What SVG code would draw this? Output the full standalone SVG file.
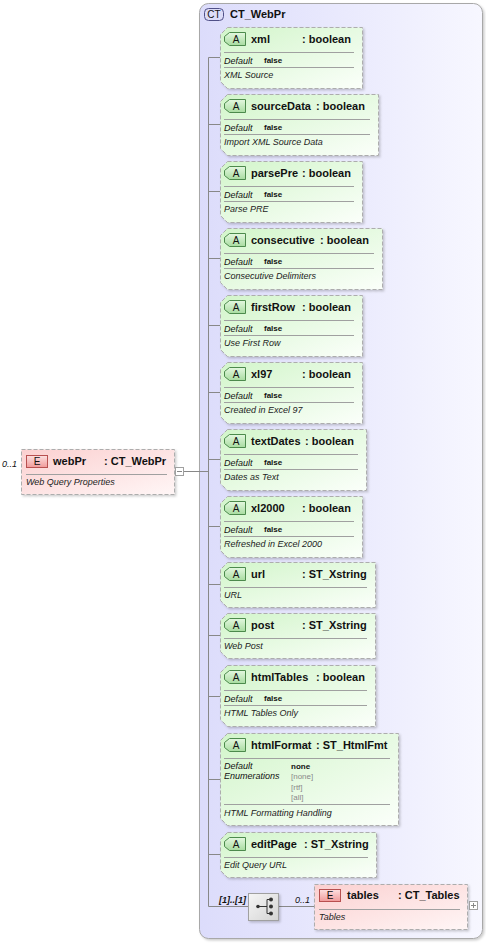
<svg xmlns="http://www.w3.org/2000/svg" width="486" height="943" viewBox="0 0 486 943">
<defs>
<linearGradient id="gCT" x1="0" y1="0" x2="1" y2="0"><stop offset="0" stop-color="#dcdcfb"/><stop offset="1" stop-color="#f7f7ff"/></linearGradient>
<linearGradient id="gA" x1="0" y1="0" x2="1" y2="1"><stop offset="0" stop-color="#d2f5ca"/><stop offset="1" stop-color="#fbfffa"/></linearGradient>
<linearGradient id="gE" x1="0" y1="0" x2="1" y2="1"><stop offset="0" stop-color="#fbd0d0"/><stop offset="1" stop-color="#fff6f6"/></linearGradient>
<linearGradient id="gAB" x1="0" y1="0" x2="0" y2="1"><stop offset="0" stop-color="#e4f8e0"/><stop offset="1" stop-color="#a8dca0"/></linearGradient>
<linearGradient id="gEB" x1="0" y1="0" x2="0" y2="1"><stop offset="0" stop-color="#fde0e0"/><stop offset="1" stop-color="#f09a9a"/></linearGradient>
<linearGradient id="gSeq" x1="0" y1="0" x2="1" y2="1"><stop offset="0" stop-color="#f6f6f6"/><stop offset="1" stop-color="#d4d4d4"/></linearGradient>
<filter id="sh" x="-10%" y="-10%" width="130%" height="130%"><feDropShadow dx="1.5" dy="1.5" stdDeviation="1" flood-color="#000" flood-opacity="0.2"/></filter>
</defs>
<style>
text{font-family:"Liberation Sans",Arial,sans-serif;fill:#111}
.attr{fill:url(#gA);stroke:#adadad;stroke-width:1;stroke-dasharray:4 2;filter:url(#sh)}
.elem{fill:url(#gE);stroke:#adadad;stroke-width:1;stroke-dasharray:4 2;filter:url(#sh)}
.ab{fill:url(#gAB);stroke:#4c8a4c;stroke-width:1}
.eb{fill:url(#gEB);stroke:#b85050;stroke-width:1}
.bt{font-size:10px;text-anchor:middle}
.nm{font-size:11px;font-weight:bold}
.sep{stroke:#a0a0a0;stroke-width:1}
.lab{font-size:9px;font-style:italic}
.val{font-size:8px;font-weight:bold}
.enum{font-size:8px;fill:#8a8a8a}
.desc{font-size:9px;font-style:italic;fill:#222}
.card{font-size:9px;font-style:italic}
.con{stroke:#888;stroke-width:1;fill:none}
.icon{fill:#fff;stroke:#a0a0a0;stroke-width:1}
</style>

<g id="CT_WebPr">
<rect x="199.5" y="3.5" width="283" height="935" rx="9" fill="url(#gCT)" stroke="#a8a8a8" filter="url(#sh)"/>
<rect x="204.5" y="8.5" width="19" height="12" rx="4" fill="#dcdcf8" stroke="#505088"/>
<text class="bt" x="214" y="18">CT</text>
<text class="nm" x="230" y="18">CT_WebPr</text>
</g>

<g id="connectors">
<line class="con" x1="208.5" y1="57.5" x2="208.5" y2="906.5"/>
<line class="con" x1="184" y1="471.5" x2="208.5" y2="471.5"/>
<line class="con" x1="208.5" y1="57.5" x2="220" y2="57.5"/>
<line class="con" x1="208.5" y1="124.5" x2="220" y2="124.5"/>
<line class="con" x1="208.5" y1="191.5" x2="220" y2="191.5"/>
<line class="con" x1="208.5" y1="258.5" x2="220" y2="258.5"/>
<line class="con" x1="208.5" y1="325.5" x2="220" y2="325.5"/>
<line class="con" x1="208.5" y1="392.5" x2="220" y2="392.5"/>
<line class="con" x1="208.5" y1="459.5" x2="220" y2="459.5"/>
<line class="con" x1="208.5" y1="526.5" x2="220" y2="526.5"/>
<line class="con" x1="208.5" y1="584.5" x2="220" y2="584.5"/>
<line class="con" x1="208.5" y1="635.5" x2="220" y2="635.5"/>
<line class="con" x1="208.5" y1="696.5" x2="220" y2="696.5"/>
<line class="con" x1="208.5" y1="779.5" x2="220" y2="779.5"/>
<line class="con" x1="208.5" y1="854.5" x2="220" y2="854.5"/>
<line class="con" x1="208.5" y1="906.5" x2="248" y2="906.5"/>
<line class="con" x1="279" y1="906.5" x2="314" y2="906.5"/>
</g>

<g id="webPr">
<text class="card" x="2" y="467">0..1</text>
<rect class="elem" x="21.5" y="449.5" width="153" height="45"/>
<rect class="eb" x="26.5" y="455.5" width="21" height="12"/>
<text class="bt" x="37" y="465">E</text>
<text class="nm" x="53" y="465">webPr</text>
<text class="nm" x="104" y="465">: CT_WebPr</text>
<line class="sep" x1="26" y1="474.5" x2="167" y2="474.5"/>
<text class="desc" x="26" y="485">Web Query Properties</text>
<rect class="icon" x="175.5" y="467.5" width="8" height="8"/>
<line x1="177" y1="471.5" x2="182" y2="471.5" stroke="#888"/>
</g>

<g id="attr-xml" transform="translate(0,27)">
<path class="attr" d="M227.5,0.5H362.5V61.5H227.5L220.5,54.5V7.5Z"/>
<path class="ab" d="M229.5,5.5H245.5V18.5H229.5L224.5,14.5V9.5Z"/>
<text class="bt" x="236" y="16">A</text>
<text class="nm" x="251" y="15.5">xml</text>
<text class="nm" x="302" y="15.5">: boolean</text>
<line class="sep" x1="224" y1="25.5" x2="354" y2="25.5"/>
<text class="lab" x="224" y="36.5">Default</text>
<text class="val" x="264" y="36">false</text>
<line class="sep" x1="224" y1="40.5" x2="354" y2="40.5"/>
<text class="desc" x="224" y="51">XML Source</text>
</g>

<g id="attr-sourceData" transform="translate(0,94)">
<path class="attr" d="M227.5,0.5H378.5V61.5H227.5L220.5,54.5V7.5Z"/>
<path class="ab" d="M229.5,5.5H245.5V18.5H229.5L224.5,14.5V9.5Z"/>
<text class="bt" x="236" y="16">A</text>
<text class="nm" x="251" y="15.5">sourceData</text>
<text class="nm" x="316" y="15.5">: boolean</text>
<line class="sep" x1="224" y1="25.5" x2="370" y2="25.5"/>
<text class="lab" x="224" y="36.5">Default</text>
<text class="val" x="264" y="36">false</text>
<line class="sep" x1="224" y1="40.5" x2="370" y2="40.5"/>
<text class="desc" x="224" y="51">Import XML Source Data</text>
</g>

<g id="attr-parsePre" transform="translate(0,161)">
<path class="attr" d="M227.5,0.5H362.5V61.5H227.5L220.5,54.5V7.5Z"/>
<path class="ab" d="M229.5,5.5H245.5V18.5H229.5L224.5,14.5V9.5Z"/>
<text class="bt" x="236" y="16">A</text>
<text class="nm" x="251" y="15.5">parsePre</text>
<text class="nm" x="302" y="15.5">: boolean</text>
<line class="sep" x1="224" y1="25.5" x2="354" y2="25.5"/>
<text class="lab" x="224" y="36.5">Default</text>
<text class="val" x="264" y="36">false</text>
<line class="sep" x1="224" y1="40.5" x2="354" y2="40.5"/>
<text class="desc" x="224" y="51">Parse PRE</text>
</g>

<g id="attr-consecutive" transform="translate(0,228)">
<path class="attr" d="M227.5,0.5H382.5V61.5H227.5L220.5,54.5V7.5Z"/>
<path class="ab" d="M229.5,5.5H245.5V18.5H229.5L224.5,14.5V9.5Z"/>
<text class="bt" x="236" y="16">A</text>
<text class="nm" x="251" y="15.5">consecutive</text>
<text class="nm" x="320" y="15.5">: boolean</text>
<line class="sep" x1="224" y1="25.5" x2="374" y2="25.5"/>
<text class="lab" x="224" y="36.5">Default</text>
<text class="val" x="264" y="36">false</text>
<line class="sep" x1="224" y1="40.5" x2="374" y2="40.5"/>
<text class="desc" x="224" y="51">Consecutive Delimiters</text>
</g>

<g id="attr-firstRow" transform="translate(0,295)">
<path class="attr" d="M227.5,0.5H362.5V61.5H227.5L220.5,54.5V7.5Z"/>
<path class="ab" d="M229.5,5.5H245.5V18.5H229.5L224.5,14.5V9.5Z"/>
<text class="bt" x="236" y="16">A</text>
<text class="nm" x="251" y="15.5">firstRow</text>
<text class="nm" x="302" y="15.5">: boolean</text>
<line class="sep" x1="224" y1="25.5" x2="354" y2="25.5"/>
<text class="lab" x="224" y="36.5">Default</text>
<text class="val" x="264" y="36">false</text>
<line class="sep" x1="224" y1="40.5" x2="354" y2="40.5"/>
<text class="desc" x="224" y="51">Use First Row</text>
</g>

<g id="attr-xl97" transform="translate(0,362)">
<path class="attr" d="M227.5,0.5H362.5V61.5H227.5L220.5,54.5V7.5Z"/>
<path class="ab" d="M229.5,5.5H245.5V18.5H229.5L224.5,14.5V9.5Z"/>
<text class="bt" x="236" y="16">A</text>
<text class="nm" x="251" y="15.5">xl97</text>
<text class="nm" x="302" y="15.5">: boolean</text>
<line class="sep" x1="224" y1="25.5" x2="354" y2="25.5"/>
<text class="lab" x="224" y="36.5">Default</text>
<text class="val" x="264" y="36">false</text>
<line class="sep" x1="224" y1="40.5" x2="354" y2="40.5"/>
<text class="desc" x="224" y="51">Created in Excel 97</text>
</g>

<g id="attr-textDates" transform="translate(0,429)">
<path class="attr" d="M227.5,0.5H366.5V61.5H227.5L220.5,54.5V7.5Z"/>
<path class="ab" d="M229.5,5.5H245.5V18.5H229.5L224.5,14.5V9.5Z"/>
<text class="bt" x="236" y="16">A</text>
<text class="nm" x="251" y="15.5">textDates</text>
<text class="nm" x="305" y="15.5">: boolean</text>
<line class="sep" x1="224" y1="25.5" x2="358" y2="25.5"/>
<text class="lab" x="224" y="36.5">Default</text>
<text class="val" x="264" y="36">false</text>
<line class="sep" x1="224" y1="40.5" x2="358" y2="40.5"/>
<text class="desc" x="224" y="51">Dates as Text</text>
</g>

<g id="attr-xl2000" transform="translate(0,496)">
<path class="attr" d="M227.5,0.5H362.5V61.5H227.5L220.5,54.5V7.5Z"/>
<path class="ab" d="M229.5,5.5H245.5V18.5H229.5L224.5,14.5V9.5Z"/>
<text class="bt" x="236" y="16">A</text>
<text class="nm" x="251" y="15.5">xl2000</text>
<text class="nm" x="302" y="15.5">: boolean</text>
<line class="sep" x1="224" y1="25.5" x2="354" y2="25.5"/>
<text class="lab" x="224" y="36.5">Default</text>
<text class="val" x="264" y="36">false</text>
<line class="sep" x1="224" y1="40.5" x2="354" y2="40.5"/>
<text class="desc" x="224" y="51">Refreshed in Excel 2000</text>
</g>

<g id="attr-url" transform="translate(0,562)">
<path class="attr" d="M227.5,0.5H375.5V45.5H227.5L220.5,38.5V7.5Z"/>
<path class="ab" d="M229.5,5.5H245.5V18.5H229.5L224.5,14.5V9.5Z"/>
<text class="bt" x="236" y="16">A</text>
<text class="nm" x="251" y="15.5">url</text>
<text class="nm" x="302" y="15.5">: ST_Xstring</text>
<line class="sep" x1="224" y1="25.5" x2="367" y2="25.5"/>
<text class="desc" x="224" y="36">URL</text>
</g>

<g id="attr-post" transform="translate(0,613)">
<path class="attr" d="M227.5,0.5H375.5V45.5H227.5L220.5,38.5V7.5Z"/>
<path class="ab" d="M229.5,5.5H245.5V18.5H229.5L224.5,14.5V9.5Z"/>
<text class="bt" x="236" y="16">A</text>
<text class="nm" x="251" y="15.5">post</text>
<text class="nm" x="302" y="15.5">: ST_Xstring</text>
<line class="sep" x1="224" y1="25.5" x2="367" y2="25.5"/>
<text class="desc" x="224" y="36">Web Post</text>
</g>

<g id="attr-htmlTables" transform="translate(0,665)">
<path class="attr" d="M227.5,0.5H375.5V61.5H227.5L220.5,54.5V7.5Z"/>
<path class="ab" d="M229.5,5.5H245.5V18.5H229.5L224.5,14.5V9.5Z"/>
<text class="bt" x="236" y="16">A</text>
<text class="nm" x="251" y="15.5">htmlTables</text>
<text class="nm" x="316" y="15.5">: boolean</text>
<line class="sep" x1="224" y1="25.5" x2="367" y2="25.5"/>
<text class="lab" x="224" y="36.5">Default</text>
<text class="val" x="264" y="36">false</text>
<line class="sep" x1="224" y1="40.5" x2="367" y2="40.5"/>
<text class="desc" x="224" y="51">HTML Tables Only</text>
</g>

<g id="attr-htmlFormat" transform="translate(0,733)">
<path class="attr" d="M227.5,0.5H398.5V92.5H227.5L220.5,85.5V7.5Z"/>
<path class="ab" d="M229.5,5.5H245.5V18.5H229.5L224.5,14.5V9.5Z"/>
<text class="bt" x="236" y="16">A</text>
<text class="nm" x="251" y="15.5">htmlFormat</text>
<text class="nm" x="316" y="15.5">: ST_HtmlFmt</text>
<line class="sep" x1="224" y1="25.5" x2="390" y2="25.5"/>
<text class="lab" x="224" y="36">Default</text>
<text class="val" x="291" y="35.5">none</text>
<text class="lab" x="224" y="46">Enumerations</text>
<text class="enum" x="291" y="46">[none]</text>
<text class="enum" x="291" y="56.5">[rtf]</text>
<text class="enum" x="291" y="67">[all]</text>
<line class="sep" x1="224" y1="71.5" x2="390" y2="71.5"/>
<text class="desc" x="224" y="83">HTML Formatting Handling</text>
</g>

<g id="attr-editPage" transform="translate(0,832)">
<path class="attr" d="M227.5,0.5H376.5V45.5H227.5L220.5,38.5V7.5Z"/>
<path class="ab" d="M229.5,5.5H245.5V18.5H229.5L224.5,14.5V9.5Z"/>
<text class="bt" x="236" y="16">A</text>
<text class="nm" x="251" y="15.5">editPage</text>
<text class="nm" x="304" y="15.5">: ST_Xstring</text>
<line class="sep" x1="224" y1="25.5" x2="368" y2="25.5"/>
<text class="desc" x="224" y="36">Edit Query URL</text>
</g>

<g id="sequence">
<text class="card" x="219" y="903" font-weight="bold">[1]..[1]</text>
<rect x="248.5" y="893.5" width="30" height="27" fill="url(#gSeq)" stroke="#a0a0a0" filter="url(#sh)"/>
<circle cx="258" cy="906.5" r="1.8" fill="#333"/>
<path d="M258,906.5H267M267,899.5V913.5M267,899.5H271M267,913.5H271" stroke="#333" stroke-width="1" fill="none"/>
<circle cx="271" cy="899.5" r="2" fill="#333"/>
<circle cx="271" cy="906.5" r="2" fill="#333"/>
<circle cx="271" cy="913.5" r="2" fill="#333"/>
</g>

<g id="tables">
<text class="card" x="295" y="903">0..1</text>
<rect class="elem" x="314.5" y="884.5" width="153" height="45"/>
<rect class="eb" x="319.5" y="889.5" width="21" height="12"/>
<text class="bt" x="330" y="899">E</text>
<text class="nm" x="347" y="899">tables</text>
<text class="nm" x="398" y="899">: CT_Tables</text>
<line class="sep" x1="319" y1="909.5" x2="460" y2="909.5"/>
<text class="desc" x="319" y="920">Tables</text>
<rect class="icon" x="469.5" y="901.5" width="8" height="8"/>
<path d="M471,905.5H476M473.5,903V908" stroke="#888"/>
</g>
</svg>
